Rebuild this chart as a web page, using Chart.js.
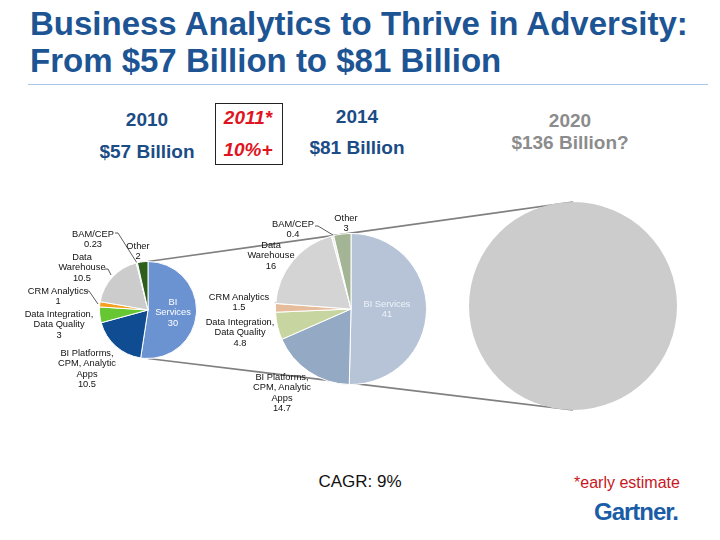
<!DOCTYPE html>
<html>
<head>
<meta charset="utf-8">
<script src="https://cdn.jsdelivr.net/npm/chart.js@4.4.1/dist/chart.umd.min.js"></script>
<style>
  body { margin: 0; background: #fff; }
  #slide { position: relative; width: 720px; height: 540px; overflow: hidden; font-family: "Liberation Sans", Arial, sans-serif; }
  .abs { position: absolute; white-space: nowrap; }
  .title { left: 30px; top: 5px; font-size: 33px; font-weight: bold; color: #1D5494; line-height: 37px; }
  .big { font-size: 19px; font-weight: bold; color: #1B4C85; transform: translate(-50%, -50%); }
  .lbl { font-size: 9.3px; line-height: 10.4px; color: #111; text-align: center; transform: translateX(-50%); }
  canvas { position: absolute; z-index: 2; }
  svg { position: absolute; left: 0; top: 0; z-index: 1; }
</style>
</head>
<body>
<div id="slide">
  <div class="abs title">Business Analytics to Thrive in Adversity:<br>From $57 Billion to $81 Billion</div>
  <div class="abs" style="left:28px;top:84px;width:680px;height:1px;background:#A9C4E8"></div>

  <div class="abs big" style="left:147px;top:120px">2010</div>
  <div class="abs big" style="left:147px;top:152px">$57 Billion</div>
  <div class="abs" style="left:215px;top:103px;width:66px;height:60px;border:1px solid #222"></div>
  <div class="abs big" style="left:248px;top:118px;color:#E0141E;font-style:italic">2011*</div>
  <div class="abs big" style="left:248px;top:150px;color:#E0141E;font-style:italic">10%+</div>
  <div class="abs big" style="left:357px;top:117px">2014</div>
  <div class="abs big" style="left:357px;top:148px">$81 Billion</div>
  <div class="abs big" style="left:570px;top:121px;color:#8C8C8C">2020</div>
  <div class="abs big" style="left:570px;top:143px;color:#8C8C8C">$136 Billion?</div>

  <div class="abs big" style="left:360px;top:482px;font-size:17px;font-weight:normal;color:#111">CAGR: 9%</div>
  <div class="abs big" style="left:627px;top:483px;font-size:16px;font-weight:normal;color:#C8161E">*early estimate</div>
  <div class="abs big" style="left:636px;top:512px;font-size:24px;color:#1A5DA6;letter-spacing:-1px">Gartner.</div>

  <svg id="lines" width="720" height="540"></svg>
  <canvas id="pie2010" width="98" height="98" style="left:99px;top:261px"></canvas>
  <canvas id="pie2014" width="152" height="152" style="left:275px;top:233px"></canvas>
  <canvas id="pie2020" width="208" height="208" style="left:469px;top:202px"></canvas>
</div>

<script>
// segments, clockwise from 12 o'clock
const segments = ['BI Services', 'BI Platforms, CPM, Analytic Apps', 'Data Integration, Data Quality', 'CRM Analytics', 'Data Warehouse', 'BAM/CEP', 'Other'];
const values2010 = [30, 10.5, 3, 1, 10.5, 0.23, 2];
const values2014 = [41, 14.7, 4.8, 1.5, 16, 0.4, 3];
const values2020 = [136];

const colors2010 = ['#6C93D1', '#0F4C91', '#66C733', '#F5A01E', '#CCCCCC', '#F2F2F2', '#2E5E1D'];
const colors2014 = ['#B7C4D8', '#94A9C3', '#C7D5A1', '#E6BD9C', '#D4D4D4', '#EDEDED', '#A3B594'];
const colors2020 = ['#CCCCCC'];

// label text lines per segment (value appended from the arrays)
const lines2010 = [['BI', 'Services'], ['BI Platforms,', 'CPM, Analytic', 'Apps'], ['Data Integration,', 'Data Quality'], ['CRM Analytics'], ['Data', 'Warehouse'], ['BAM/CEP'], ['Other']];
const lines2014 = [['BI Services'], ['BI Platforms,', 'CPM, Analytic', 'Apps'], ['Data Integration,', 'Data Quality'], ['CRM Analytics'], ['Data', 'Warehouse'], ['BAM/CEP'], ['Other']];

// label anchor: center x, center y of first line
const pos2010 = [[173, 302], [87, 353], [59, 314], [58, 291], [82, 257], [93, 234], [138, 246]];
const pos2014 = [[387, 304], [282, 377], [240, 322], [239, 297], [271, 245], [293, 224], [346, 218]];

function makePie(id, labels, values, colors, bw) {
    return new Chart(document.getElementById(id), {
        type: 'pie',
        data: {
            labels: labels,
            datasets: [{
                data: values,
                backgroundColor: colors,
                borderColor: '#FFFFFF',
                borderWidth: bw
            }]
        },
        options: {
            responsive: false,
            animation: false,
            events: [],
            layout: { padding: 0 },
            plugins: { legend: { display: false }, tooltip: { enabled: false } }
        }
    });
}

function addLabels(lines, values, pos, white) {
    const slide = document.getElementById('slide');
    lines.forEach((ls, i) => {
        const d = document.createElement('div');
        d.className = 'abs lbl';
        d.style.left = pos[i][0] + 'px';
        d.style.top = (pos[i][1] - 5.2) + 'px';
        d.style.zIndex = 3;
        if (i === 0) d.style.color = white;
        d.innerHTML = ls.concat([String(values[i])]).join('<br>');
        slide.appendChild(d);
    });
}

function svgLine(pts, color, w) {
    const svg = document.getElementById('lines');
    const p = document.createElementNS('http://www.w3.org/2000/svg', 'polyline');
    p.setAttribute('points', pts.map(q => q.join(',')).join(' '));
    p.setAttribute('fill', 'none');
    p.setAttribute('stroke', color);
    p.setAttribute('stroke-width', w);
    svg.appendChild(p);
}

const c2010 = makePie('pie2010', segments, values2010, colors2010, 1);
const c2014 = makePie('pie2014', segments, values2014, colors2014, 1);
const c2020 = makePie('pie2020', ['Total'], values2020, colors2020, 0);

addLabels(lines2010, values2010, pos2010, '#FFFFFF');
addLabels(lines2014, values2014, pos2014, '#EEF2F7');

// connector lines from the 2010 pie to the 2020 circle
function arcInfo(chart) {
    const a = chart.getDatasetMeta(0).data[0];
    return { x: chart.canvas.offsetLeft + a.x, y: chart.canvas.offsetTop + a.y, r: a.outerRadius };
}
const a1 = arcInfo(c2010), a3 = arcInfo(c2020);
svgLine([[a1.x, a1.y - a1.r], [a3.x, a3.y - a3.r]], '#808080', 1.6);
svgLine([[a1.x, a1.y + a1.r], [a3.x, a3.y + a3.r]], '#808080', 1.6);

// leader lines
svgLine([[115, 233], [118, 233], [137, 263]], '#333', 0.8);
svgLine([[105, 269], [108, 269], [111, 275]], '#333', 0.8);
svgLine([[87, 291], [89, 291], [98, 304]], '#333', 0.8);
svgLine([[315, 226], [318, 226], [333, 235]], '#333', 0.8);
svgLine([[275, 302], [277, 305]], '#333', 0.8);
</script>
</body>
</html>
